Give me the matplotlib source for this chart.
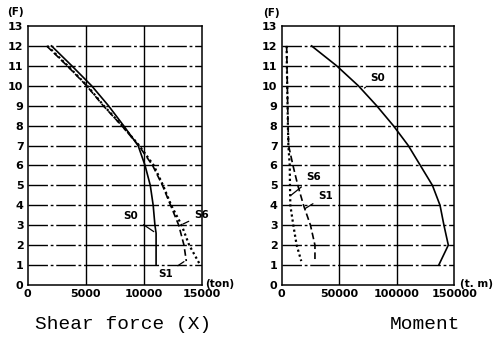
import matplotlib
matplotlib.use("Agg")
import matplotlib.pyplot as plt

# --- datos ---
floors = [12, 11, 10, 9, 8, 7, 6, 5, 4, 3, 2]

# Shear force (ton)
s0_shear_floor = [12, 11, 10, 9, 8, 7, 6, 5, 4, 3, 2.6, 1]
s0_shear = [2050, 3800, 5500, 6950, 8250, 9500, 10100, 10550, 10800, 10950, 11050, 11050]
s1_shear_floor = floors + [1.2]
s1_shear = [1630, 3400, 5070, 6500, 8090, 9550, 10750, 11600, 12300, 13000, 13450, 13650]
s6_shear_floor = floors + [1]
s6_shear = [1700, 3450, 5120, 6550, 8120, 9600, 10850, 11650, 12350, 13250, 13900, 14850]

# Moment (t.m)
s0_mom_floor = [12, 11, 10, 9, 8, 7, 6, 5, 4, 3, 2, 1]
s0_mom = [26000, 47800, 66600, 82500, 97000, 110000, 120500, 131000, 137600, 141000, 144800, 136500]
s1_mom_floor = floors + [1.2]
s1_mom = [4300, 4600, 4900, 5200, 5500, 6000, 9800, 14000, 19000, 25000, 28900, 28900]
s6_mom_floor = floors + [1.2]
s6_mom = [4300, 4500, 4800, 5100, 5400, 5800, 7000, 7200, 7500, 10100, 13000, 17000]

shear_ticks = [0, 5000, 10000, 15000]
mom_ticks = [0, 50000, 100000, 150000]

fig = plt.figure(figsize=(4.93, 3.39), dpi=100)
ax1 = fig.add_axes([0.0562, 0.1593, 0.3535, 0.764])
ax2 = fig.add_axes([0.5714, 0.1593, 0.3501, 0.764])

tick_font = dict(fontsize=8, fontweight="bold", family="DejaVu Sans")
lab_font = dict(fontsize=7.5, fontweight="bold", family="DejaVu Sans")


def base(ax, xmax, xticks):
    ax.set_xlim(0, xmax)
    ax.set_ylim(0, 13)
    ax.set_yticks(range(14))
    ax.set_yticklabels([str(i) for i in range(14)], **tick_font)
    ax.set_xticks(xticks)
    ax.set_xticklabels([str(t) for t in xticks], **tick_font)
    ax.tick_params(length=0, pad=3)
    for f in range(1, 13):
        ax.axhline(f, color="black", lw=1.0, ls=(0, (14, 2, 2, 2)), zorder=1)
    for t in xticks[1:-1]:
        ax.axvline(t, color="black", lw=1.0, zorder=1)
    for s in ax.spines.values():
        s.set_linewidth(1.1)


base(ax1, 15000, shear_ticks)
base(ax2, 150000, mom_ticks)

ax1.plot(s0_shear, s0_shear_floor, color="black", lw=1.2)
ax1.plot(s1_shear, s1_shear_floor, color="black", lw=1.2, ls=(0, (4, 2)))
ax1.plot(s6_shear, s6_shear_floor, color="black", lw=1.6, ls=(0, (1, 1.3)))

ax2.plot(s0_mom, s0_mom_floor, color="black", lw=1.2)
ax2.plot(s1_mom, s1_mom_floor, color="black", lw=1.2, ls=(0, (4, 2)))
ax2.plot(s6_mom, s6_mom_floor, color="black", lw=1.6, ls=(0, (1, 1.3)))

arrow = dict(arrowstyle="-", color="black", lw=0.9)
ax1.annotate("S0", xy=(11050, 2.6), xytext=(8900, 3.45), ha="center", va="center",
             arrowprops=arrow, annotation_clip=False, **lab_font)
ax1.annotate("S6", xy=(13150, 3.0), xytext=(14950, 3.5), ha="center", va="center",
             arrowprops=arrow, annotation_clip=False, **lab_font)
ax1.annotate("S1", xy=(13650, 1.25), xytext=(11850, 0.55), ha="center", va="center",
             arrowprops=arrow, annotation_clip=False, **lab_font)

ax2.annotate("S0", xy=(70000, 9.8), xytext=(83500, 10.4), ha="center", va="center",
             arrowprops=arrow, annotation_clip=False, **lab_font)
ax2.annotate("S6", xy=(5800, 4.4), xytext=(27500, 5.4), ha="center", va="center",
             arrowprops=arrow, annotation_clip=False, **lab_font)
ax2.annotate("S1", xy=(18500, 3.77), xytext=(38000, 4.47), ha="center", va="center",
             arrowprops=arrow, annotation_clip=False, **lab_font)

fig.text(0.032, 0.966, "(F)", ha="center", va="center", **lab_font)
fig.text(0.550, 0.962, "(F)", ha="center", va="center", **lab_font)
fig.text(0.416, 0.162, "(ton)", ha="left", va="center", **lab_font)
fig.text(0.933, 0.162, "(t. m)", ha="left", va="center", **lab_font)

fig.text(0.25, 0.044, "Shear force (X)", ha="center", va="center",
         fontsize=14, family="Liberation Mono")
fig.text(0.862, 0.044, "Moment", ha="center", va="center",
         fontsize=14, family="Liberation Mono")

fig.savefig("out.png", dpi=100)
